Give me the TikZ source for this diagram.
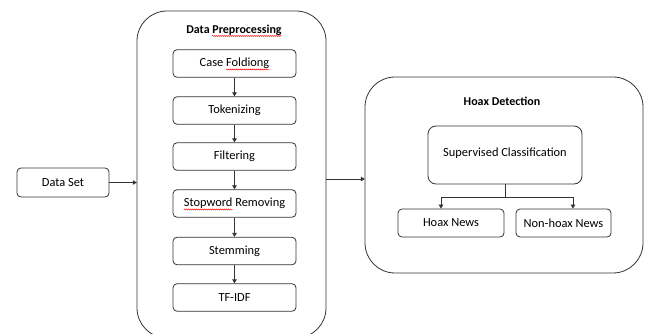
\documentclass[tikz,border=0pt]{standalone}
\usepackage{fontspec}
\setmainfont{Carlito}
\usetikzlibrary{arrows.meta,calc,decorations.pathmorphing}
\tikzset{
  line/.style={draw=black!80, line width=0.8pt},
  arr/.style={line, -{Triangle[length=4pt,width=4.5pt]}},
  bigbox/.style={line, rounded corners=30pt},
  stepbox/.style={line, rounded corners=4pt, minimum width=123pt, minimum height=27.5pt, inner sep=0pt, font=\fontsize{12.4}{14}\selectfont},
  title/.style={font=\fontsize{12}{14}\selectfont\bfseries, inner sep=0pt},
  wavy/.style={draw=red, line width=0.4pt, decorate, decoration={snake, amplitude=0.6pt, segment length=2pt}},
}
\newlength\wTitle \newlength\wTitleB
\newlength\wCase \newlength\wCaseB
\newlength\wStop
\begin{document}
\settowidth{\wTitle}{\fontsize{12}{14}\selectfont\bfseries Data Preprocessing}
\settowidth{\wTitleB}{\fontsize{12}{14}\selectfont\bfseries Preprocessing}
\settowidth{\wCase}{\fontsize{12.4}{14}\selectfont Case Foldiong}
\settowidth{\wCaseB}{\fontsize{12.4}{14}\selectfont Foldiong}
\settowidth{\wStop}{\fontsize{12.4}{14}\selectfont Stopword}
\begin{tikzpicture}[x=1pt,y=-1pt]
\useasboundingbox (0,0) rectangle (651,334);
% containers
\draw[bigbox] (137,11) rectangle (326,338);
\node[draw=none, minimum width=189pt, minimum height=327pt, inner sep=0pt] (prep) at (231.5,174.5) {};
\draw[bigbox] (365,77) rectangle (643,273);
\node[draw=none, minimum width=278pt, minimum height=196pt, inner sep=0pt] (hoax) at (504,175) {};
\node[title] (ptitle) at (234,30) {Data Preprocessing};
\node[title] (htitle) at (502,101) {Hoax Detection};
% data set
\node[stepbox, minimum width=92pt, minimum height=29pt] (ds) at (63,182.5) {Data Set};
% preprocessing steps
\node[stepbox] (s1) at (234.5,63.5) {Case Foldiong};
\node[stepbox] (s2) at (234.5,110.5) {Tokenizing};
\node[stepbox] (s3) at (234.5,156.5) {Filtering};
\node[stepbox] (s4) at (234.5,203.5) {Stopword Removing};
\node[stepbox] (s5) at (234.5,251) {Stemming};
\node[stepbox] (s6) at (234.5,297.5) {TF-IDF};
\draw[arr] (s1) -- (s2);
\draw[arr] (s2) -- (s3);
\draw[arr] (s3) -- (s4);
\draw[arr] (s4) -- (s5);
\draw[arr] (s5) -- (s6);
% spell-check marks
\draw[wavy] ($(ptitle.base west)+(\wTitle-\wTitleB,-2.8pt)$) -- ($(ptitle.base west)+(\wTitle,-2.8pt)$);
\draw[wavy] ($(s1.text)+(\wCase-\wCaseB,-2.8pt)$) -- ($(s1.text)+(\wCase,-2.8pt)$);
\draw[wavy] ($(s4.text)+(0pt,-2.8pt)$) -- ($(s4.text)+(\wStop,-2.8pt)$);
% hoax detection
\node[stepbox, rounded corners=8pt, minimum width=154pt, minimum height=58pt] (sup) at (505,155) {\raisebox{5pt}{Supervised Classification}};
\node[stepbox, minimum width=106pt, minimum height=28pt] (hn) at (451,223) {Hoax News};
\node[stepbox, minimum width=95pt, minimum height=28pt] (nhn) at (563.5,223) {Non-hoax News};
\draw[line] (sup.south) -- ++(0,13) coordinate (split);
\draw[arr] (split) -| ([xshift=-10pt]hn.north);
\draw[arr] (split) -| ([xshift=9.5pt]nhn.north);
% flow arrows
\draw[arr] (ds.east) -- (ds.east -| prep.west);
\draw[arr] (prep.east |- 0,179) -- (hoax.west |- 0,179);
\end{tikzpicture}
\end{document}
